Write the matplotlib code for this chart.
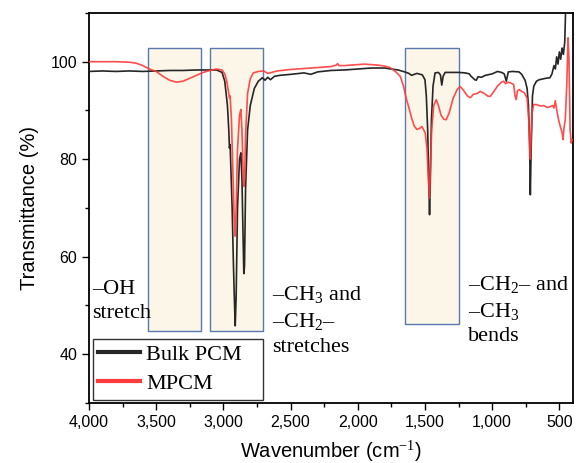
import matplotlib
matplotlib.use('Agg')
import matplotlib.pyplot as plt
from matplotlib.patches import Rectangle
from matplotlib.ticker import MultipleLocator, FuncFormatter

plt.rcParams['font.family'] = ['Liberation Sans', 'DejaVu Sans']
plt.rcParams['mathtext.fontset'] = 'custom'
plt.rcParams['mathtext.rm'] = 'Liberation Serif'

# Bulk PCM (black)
wn_bulk = [4000, 3900, 3800, 3700, 3600, 3500, 3400, 3300, 3200, 3100, 3050, 3010, 2990,
           2970, 2960, 2955, 2950, 2935, 2925, 2917, 2912, 2905, 2895, 2880, 2870, 2862,
           2855, 2848, 2843, 2835, 2820, 2800, 2770, 2740, 2710, 2690, 2670, 2650, 2620,
           2580, 2500, 2400, 2350, 2300, 2200, 2100, 2000, 1900, 1800, 1700, 1650, 1620,
           1600, 1560, 1520, 1500, 1490, 1480, 1472, 1466, 1460, 1452, 1440, 1425, 1400,
           1385, 1375, 1365, 1350, 1300, 1250, 1200, 1170, 1160, 1130, 1118, 1105, 1080,
           1050, 1000, 960, 930, 910, 895, 880, 850, 800, 780, 770, 755, 740, 730, 722,
           716, 710, 700, 690, 670, 650, 600, 570, 555, 540, 530, 520, 510, 500, 490, 480,
           470, 460, 452, 445]
t_bulk = [98.0, 98.1, 98.0, 98.1, 98.0, 98.1, 98.2, 98.2, 98.3, 98.3, 98.3, 97.8, 96.0,
          91.0, 86.0, 82.3, 83.0, 70.0, 58.0, 50.0, 45.8, 52.0, 70.0, 80.0, 81.3, 76.0,
          66.0, 56.5, 58.0, 74.0, 86.0, 91.0, 94.5, 96.0, 96.7, 96.2, 96.8, 96.3, 97.0,
          97.2, 97.4, 97.7, 97.4, 97.9, 98.2, 98.3, 98.5, 98.7, 98.7, 98.3, 97.9, 97.6,
          97.2, 97.6, 97.3, 96.3, 93.0, 86.0, 76.0, 68.6, 76.0, 88.0, 95.0, 97.7, 97.8,
          97.3, 95.2, 97.0, 97.8, 97.8, 97.8, 97.7, 97.5, 97.1, 96.3, 96.2, 96.9, 96.8,
          97.2, 97.5, 98.0, 97.8, 97.5, 96.0, 97.9, 98.0, 97.9, 97.4, 96.9, 96.2, 94.5,
          91.0, 84.0, 72.7, 82.0, 93.0, 95.0, 96.0, 96.3, 96.6, 96.7, 97.5, 99.2, 98.5,
          101.0, 99.5, 102.0, 100.5, 102.8, 101.5, 104.0, 112.0, 115.0]

# MPCM (red)
wn_mpcm = [4000, 3900, 3800, 3700, 3650, 3600, 3550, 3500, 3450, 3400, 3350, 3300, 3250,
           3200, 3150, 3100, 3050, 3010, 2990, 2975, 2960, 2955, 2950, 2940, 2930, 2920,
           2913, 2905, 2895, 2880, 2870, 2862, 2855, 2848, 2842, 2835, 2820, 2800, 2777,
           2740, 2700, 2670, 2640, 2600, 2500, 2400, 2300, 2200, 2160, 2150, 2140, 2100,
           2000, 1950, 1900, 1850, 1800, 1760, 1720, 1684, 1660, 1640, 1622, 1600, 1580,
           1560, 1540, 1523, 1510, 1498, 1485, 1475, 1466, 1460, 1450, 1435, 1416, 1400,
           1380, 1360, 1342, 1320, 1290, 1260, 1237, 1210, 1185, 1163, 1140, 1110, 1089,
           1060, 1030, 1014, 990, 960, 930, 915, 900, 880, 860, 840, 830, 821, 812, 800,
           780, 760, 740, 728, 720, 716, 712, 705, 692, 670, 640, 617, 590, 565, 550, 540,
           530, 518, 505, 493, 480, 473, 465, 456, 445, 435, 428, 420, 412, 405]
t_mpcm = [100.0, 100.0, 100.0, 99.9, 99.7, 99.2, 98.5, 98.0, 97.0, 96.2, 95.8, 96.0, 96.6,
          97.2, 97.8, 98.2, 98.5, 98.3, 97.5, 96.0, 93.5, 92.6, 93.0, 88.0, 78.0, 68.0,
          64.2, 70.0, 82.0, 89.0, 90.2, 86.0, 79.0, 74.4, 76.0, 85.0, 93.5, 96.5, 97.7,
          98.0, 98.1, 97.6, 97.8, 98.1, 98.4, 98.6, 98.8, 99.0, 99.3, 99.6, 99.2, 99.2,
          99.4, 99.5, 99.4, 99.3, 99.1, 98.8, 98.0, 97.0, 95.0, 92.5, 90.8, 88.5, 86.8,
          86.1, 86.3, 86.7, 86.0, 85.4, 82.0, 76.0, 72.0, 78.0, 86.0, 91.0, 92.2, 91.0,
          89.0, 88.2, 88.1, 89.5, 92.5, 94.3, 94.9, 94.0, 93.0, 92.6, 93.3, 93.5, 93.9,
          93.5, 92.9, 92.9, 93.8, 95.0, 95.8, 96.0, 95.5, 95.8, 95.6, 95.3, 93.0, 92.2,
          94.0, 94.3, 93.9, 93.6, 92.5, 88.0, 82.0, 80.0, 83.0, 89.0, 91.2, 91.2, 90.9,
          91.0, 90.6, 90.8, 91.0, 90.5, 92.0, 89.8, 88.0, 86.7, 85.5, 84.0, 86.5, 88.1,
          95.0, 104.9, 100.0, 86.0, 83.3, 84.0]

# highlighted regions: (x_left, x_right, y_bottom, y_top)
regions = [(3560, 3165, 44.7, 102.9),
           (3100, 2705, 44.7, 102.9),
           (1647, 1245, 46.1, 102.9)]

labels = ['–OH\nstretch',
          '–CH$_\\mathrm{3}$ and\n–CH$_\\mathrm{2}$–\nstretches',
          '–CH$_\\mathrm{2}$– and\n–CH$_\\mathrm{3}$\nbends']
label_pos = [(3975, 55.1), (2640, 54.2), (1180, 56.3)]

fig = plt.figure(figsize=(5.78, 4.63), dpi=100)
ax = fig.add_axes([0.154, 0.13, 0.837, 0.842])

for x0, x1, y0, y1 in regions:
    ax.add_patch(Rectangle((x1, y0), x0 - x1, y1 - y0, facecolor='#fcf6e9',
                           edgecolor='#5a78b0', linewidth=1.0, zorder=1))

ax.plot(wn_bulk, t_bulk, color='#262626', lw=1.2, label='Bulk PCM', zorder=3)
ax.plot(wn_mpcm, t_mpcm, color='#ff3a3a', lw=1.2, alpha=0.9, label='MPCM', zorder=4)

for txt, (x, y) in zip(labels, label_pos):
    ax.text(x, y, txt, family='Liberation Serif', fontsize=16, va='top', ha='left',
            linespacing=1.32, zorder=5)

ax.set_xlim(4000, 400)
ax.set_ylim(30, 110)
ax.xaxis.set_major_locator(MultipleLocator(500))
ax.xaxis.set_minor_locator(MultipleLocator(250))
ax.yaxis.set_major_locator(MultipleLocator(20))
ax.yaxis.set_minor_locator(MultipleLocator(10))
ax.xaxis.set_major_formatter(FuncFormatter(lambda v, p: '{:,.0f}'.format(v)))
ax.set_yticks([40, 60, 80, 100])
ax.tick_params(which='major', length=5, width=1, labelsize=11.5, direction='out')
ax.tick_params(which='minor', length=3, width=1, direction='out')
for s in ax.spines.values():
    s.set_linewidth(1.3)

ax.set_xlabel('Wavenumber (cm$^{-1}$)', fontsize=14.5, labelpad=6)
ax.set_ylabel('Transmittance (%)', fontsize=14.5, labelpad=8)

leg = ax.legend(loc='lower left', bbox_to_anchor=(0.008, 0.008, 0.351, 0.16),
                mode='expand', borderaxespad=0,
                prop={'family': 'Liberation Serif', 'size': 16}, frameon=True,
                fancybox=False, edgecolor='black', handlelength=1.85,
                handletextpad=0.3, labelspacing=0.4, borderpad=0.25)
leg.get_frame().set_linewidth(1.0)
for h in leg.legend_handles:
    h.set_linewidth(3)
    h.set_alpha(1)

fig.savefig('out.png', dpi=100)
